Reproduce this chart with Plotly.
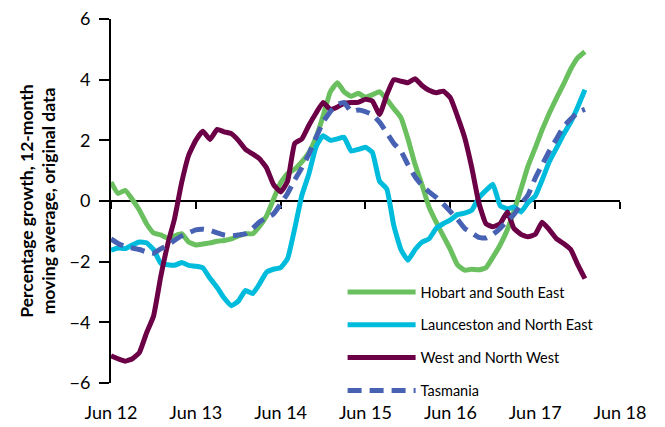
import pandas as pd
import plotly.graph_objects as go

# Monthly observations, Jun 2012 – Jan 2018
months = [d.strftime("%Y-%m-%d") for d in pd.date_range("2012-06-01", periods=68, freq="MS")]

hobart = [0.62, 0.25, 0.35, 0.05, -0.3, -0.75, -1.05, -1.12, -1.22, -1.15, -1.08, -1.35,
          -1.45, -1.42, -1.38, -1.33, -1.3, -1.25, -1.15, -1.08, -1.08, -0.85, -0.5, 0.05,
          0.6, 0.9, 1.05, 1.3, 1.6, 2.1, 2.8, 3.6, 3.9, 3.6, 3.45, 3.55,
          3.42, 3.5, 3.6, 3.35, 3.05, 2.75, 2.05, 1.2, 0.5, -0.2, -0.7, -1.15,
          -1.6, -2.1, -2.28, -2.25, -2.27, -2.2, -1.85, -1.45, -0.95, -0.35, 0.4, 1.15,
          1.75, 2.35, 2.9, 3.4, 3.85, 4.35, 4.72, 4.92]

launceston = [-1.62, -1.55, -1.57, -1.45, -1.35, -1.38, -1.6, -2.05, -2.1, -2.12, -2.03, -2.12,
              -2.15, -2.2, -2.55, -2.85, -3.2, -3.45, -3.3, -2.95, -3.05, -2.75, -2.35, -2.25,
              -2.2, -1.9, -0.9, 0.2, 0.9, 1.8, 2.15, 2.0, 2.05, 2.1, 1.65, 1.7,
              1.77, 1.6, 0.65, 0.4, -0.8, -1.6, -1.95, -1.6, -1.35, -1.25, -0.9, -0.75,
              -0.62, -0.45, -0.4, -0.3, 0.1, 0.35, 0.55, -0.15, -0.26, -0.2, -0.36, -0.05,
              0.16, 0.7, 1.3, 1.75, 2.2, 2.6, 3.1, 3.67]

west_nw = [-5.1, -5.2, -5.28, -5.2, -5.0, -4.35, -3.8, -2.5, -1.4, -0.6, 0.6, 1.5,
           2.0, 2.3, 2.03, 2.36, 2.28, 2.22, 2.0, 1.7, 1.55, 1.4, 1.1, 0.55,
           0.3, 0.65, 1.9, 2.05, 2.5, 2.9, 3.25, 3.02, 3.1, 3.22, 3.25, 3.25,
           3.35, 3.3, 2.85, 3.5, 4.0, 3.95, 3.9, 4.03, 3.8, 3.65, 3.57, 3.62,
           3.4, 2.8, 2.1, 1.1, -0.05, -0.75, -0.85, -0.75, -0.36, -0.9, -1.1, -1.18,
           -1.1, -0.7, -0.95, -1.25, -1.4, -1.6, -2.1, -2.56]

tasmania = [-1.25, -1.4, -1.5, -1.55, -1.6, -1.68, -1.72, -1.58, -1.45, -1.3, -1.15, -1.05,
            -0.95, -0.93, -0.97, -1.05, -1.12, -1.15, -1.12, -1.08, -0.9, -0.7, -0.55, -0.43,
            -0.1, 0.25, 0.7, 1.1, 1.55, 2.1, 2.6, 2.95, 3.18, 3.25, 2.95, 3.0,
            2.95, 2.85, 2.6, 2.25, 1.9, 1.65, 1.2, 0.8, 0.5, 0.3, 0.12, -0.1,
            -0.35, -0.6, -0.9, -1.05, -1.2, -1.22, -1.1, -0.9, -0.65, -0.45, -0.1, 0.2,
            0.75, 1.2, 1.65, 2.05, 2.45, 2.7, 2.92, 3.02]

tick_dates = ["2012-06-01", "2013-06-01", "2014-06-01", "2015-06-01",
              "2016-06-01", "2017-06-01", "2018-06-01"]
tick_labels = ["Jun 12", "Jun 13", "Jun 14", "Jun 15", "Jun 16", "Jun 17", "Jun 18"]
y_ticks = [-6, -4, -2, 0, 2, 4, 6]

FONT = "Lato, 'Open Sans', sans-serif"
LW = 5

fig = go.Figure()
series = [
    ("Hobart and South East", hobart, "#6abf5e", "solid", "x"),
    ("Launceston and North East", launceston, "#00bcdc", "solid", "x"),
    ("West and North West", west_nw, "#6c0046", "solid", "x"),
    ("Tasmania", tasmania, "#4862b3", "14px,8px", "x2"),
]
for name, vals, color, dash, xa in series:
    fig.add_trace(go.Scatter(
        x=months, y=vals, name=name, mode="lines", xaxis=xa, yaxis="y",
        line=dict(color=color, width=LW, dash=dash, shape="spline", smoothing=0.4),
        legendgroup=name, hoverinfo="skip",
    ))

x_range = ["2012-06-01", "2018-06-01"]

fig.update_layout(
    width=665, height=427,
    margin=dict(l=111, r=45, t=19, b=44, autoexpand=False),
    paper_bgcolor="white", plot_bgcolor="white",
    font=dict(family=FONT, color="#000000"),
    showlegend=True,
    legend=dict(
        x=0.455, y=0.294, xanchor="left", yanchor="top",
        bgcolor="rgba(0,0,0,0)", font=dict(size=14.5, family=FONT),
        tracegroupgap=11, itemwidth=68,
    ),
    # bottom axis: tick labels only
    xaxis=dict(
        type="date", range=x_range, tickvals=tick_dates, ticktext=tick_labels,
        showgrid=False, zeroline=False, showline=False, automargin=False,
        ticks="outside", ticklen=13, tickcolor="rgba(0,0,0,0)",
        tickfont=dict(size=18, family=FONT),
    ),
    # axis line through zero with tick marks
    xaxis2=dict(
        type="date", range=x_range, tickvals=tick_dates, showticklabels=False,
        overlaying="x", anchor="free", position=0.5, side="bottom", automargin=False,
        showgrid=False, zeroline=False, showline=True, linecolor="#000", linewidth=2,
        ticks="outside", ticklen=7, tickwidth=2, tickcolor="#000",
        layer="below traces",
    ),
    yaxis=dict(
        range=[-6, 6], tickvals=y_ticks, showgrid=False, zeroline=False,
        showline=True, linecolor="#000", linewidth=2, automargin=False,
        ticks="outside", ticklen=10, tickwidth=1.5, tickcolor="#000",
        ticklabelstandoff=5,
        tickfont=dict(size=18, family=FONT),
        title=dict(
            text="<b>Percentage growth, 12-month<br>moving average, original data</b>",
            font=dict(size=17.5, family=FONT), standoff=9,
        ),
    ),
)

fig.write_html("out.html")
